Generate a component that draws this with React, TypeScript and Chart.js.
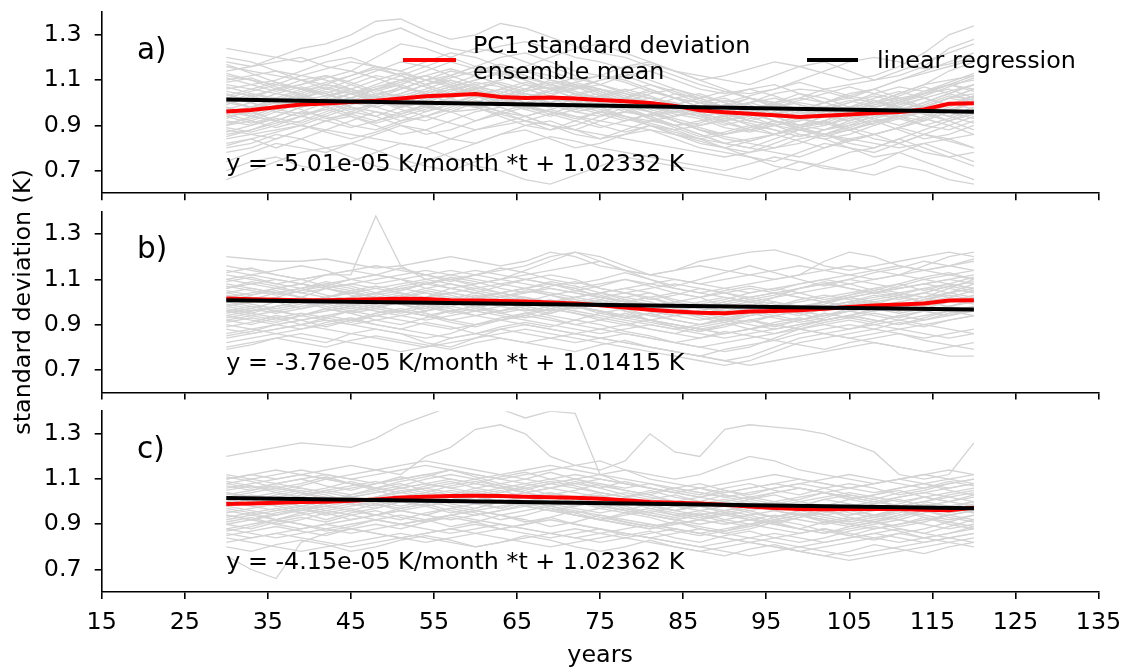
import { useEffect, useRef } from 'react';
import { Chart, registerables } from 'chart.js';

Chart.register(...registerables);

const FONT = "'DejaVu Sans', 'Liberation Sans', sans-serif";
const FS = 23.8;

const YEARS = [30, 33, 36, 39, 42, 45, 48, 51, 54, 57, 60, 63, 66, 69, 72, 75, 78, 81, 84, 87, 90, 93, 96, 99, 102, 105, 108, 111, 114, 117, 120];
const X_TICKS = [15, 25, 35, 45, 55, 65, 75, 85, 95, 105, 115, 125, 135];
const Y_TICKS = [0.7, 0.9, 1.1, 1.3];
const REG_YEARS = [30, 120];

const REG_A = [1.014, 0.960];
const REG_B = [1.007, 0.967];
const REG_C = [1.016, 0.971];

const RED_A = [0.961, 0.968, 0.980, 0.992, 0.996, 1.003, 1.009, 1.019, 1.028, 1.033, 1.038, 1.025, 1.021, 1.023, 1.019, 1.012, 1.006, 0.999, 0.986, 0.967, 0.958, 0.951, 0.944, 0.937, 0.942, 0.948, 0.954, 0.959, 0.970, 0.995, 0.998];
const RED_B = [1.015, 1.012, 1.010, 1.008, 1.008, 1.010, 1.012, 1.014, 1.013, 1.008, 1.006, 1.004, 1.002, 0.998, 0.993, 0.985, 0.975, 0.966, 0.958, 0.952, 0.950, 0.958, 0.960, 0.963, 0.970, 0.978, 0.984, 0.989, 0.993, 1.006, 1.008];
const RED_C = [0.990, 0.992, 0.995, 0.998, 1.000, 1.004, 1.010, 1.018, 1.022, 1.025, 1.026, 1.025, 1.022, 1.020, 1.017, 1.013, 1.006, 0.999, 0.995, 0.992, 0.986, 0.979, 0.972, 0.967, 0.966, 0.967, 0.968, 0.968, 0.964, 0.962, 0.973];

const GRAY_A = [
  [1.24, 1.22, 1.20, 1.18, 1.21, 1.25, 1.30, 1.33, 1.28, 1.24, 1.22, 1.25, 1.27, 1.24, 1.20, 1.18, 1.15, 1.17, 1.14, 1.10, 1.12, 1.15, 1.18, 1.16, 1.13, 1.10, 1.12, 1.16, 1.22, 1.30, 1.34],
  [1.18, 1.16, 1.20, 1.24, 1.26, 1.30, 1.36, 1.37, 1.32, 1.28, 1.30, 1.35, 1.33, 1.29, 1.25, 1.22, 1.20, 1.16, 1.12, 1.08, 1.05, 1.04, 1.06, 1.10, 1.14, 1.18, 1.20, 1.18, 1.15, 1.17, 1.20],
  [0.66, 0.70, 0.74, 0.78, 0.80, 0.82, 0.79, 0.75, 0.72, 0.70, 0.74, 0.78, 0.82, 0.85, 0.83, 0.80, 0.78, 0.76, 0.74, 0.72, 0.70, 0.73, 0.76, 0.74, 0.71, 0.70, 0.73, 0.78, 0.74, 0.70, 0.66],
  [1.12, 1.10, 1.08, 1.12, 1.15, 1.18, 1.16, 1.14, 1.10, 1.12, 1.16, 1.20, 1.22, 1.18, 1.14, 1.12, 1.10, 1.06, 1.02, 1.00, 0.98, 1.00, 1.04, 1.06, 1.05, 1.02, 1.00, 1.04, 1.08, 1.10, 1.12],
  [0.84, 0.86, 0.88, 0.90, 0.88, 0.86, 0.84, 0.82, 0.80, 0.84, 0.88, 0.90, 0.92, 0.90, 0.88, 0.86, 0.84, 0.82, 0.80, 0.78, 0.76, 0.78, 0.80, 0.84, 0.86, 0.84, 0.82, 0.80, 0.82, 0.84, 0.86],
  [1.02, 1.05, 1.08, 1.06, 1.04, 1.08, 1.12, 1.10, 1.14, 1.18, 1.15, 1.12, 1.08, 1.04, 1.06, 1.10, 1.12, 1.08, 1.04, 1.00, 0.96, 0.92, 0.90, 0.92, 0.95, 0.98, 1.00, 1.02, 1.04, 1.08, 1.10],
  [0.92, 0.90, 0.94, 0.98, 1.00, 0.96, 0.94, 0.98, 1.02, 1.06, 1.08, 1.04, 1.00, 0.98, 1.02, 1.04, 1.00, 0.96, 0.92, 0.88, 0.86, 0.88, 0.90, 0.88, 0.86, 0.88, 0.92, 0.94, 0.90, 0.88, 0.92],
  [0.78, 0.80, 0.84, 0.88, 0.92, 0.94, 0.90, 0.86, 0.88, 0.92, 0.96, 0.98, 0.94, 0.90, 0.88, 0.92, 0.96, 0.94, 0.90, 0.86, 0.82, 0.80, 0.78, 0.76, 0.80, 0.84, 0.86, 0.82, 0.78, 0.76, 0.78],
  [1.08, 1.06, 1.04, 1.02, 1.06, 1.10, 1.14, 1.18, 1.16, 1.12, 1.08, 1.10, 1.14, 1.16, 1.12, 1.08, 1.04, 1.00, 0.98, 0.96, 0.98, 1.02, 1.00, 0.96, 0.94, 0.96, 1.00, 1.04, 1.08, 1.14, 1.18],
  [0.96, 0.98, 1.00, 1.04, 1.08, 1.06, 1.02, 0.98, 1.00, 1.04, 1.06, 1.02, 0.98, 1.00, 1.04, 1.02, 0.98, 0.94, 0.96, 1.00, 1.02, 0.98, 0.94, 0.90, 0.88, 0.90, 0.94, 0.96, 0.98, 1.02, 1.04],
  [0.88, 0.86, 0.84, 0.88, 0.92, 0.96, 1.00, 1.04, 1.08, 1.10, 1.06, 1.02, 0.98, 0.96, 0.94, 0.92, 0.90, 0.88, 0.86, 0.84, 0.82, 0.84, 0.86, 0.90, 0.92, 0.88, 0.84, 0.82, 0.86, 0.90, 0.94],
  [1.04, 1.00, 0.96, 0.94, 0.98, 1.02, 1.06, 1.08, 1.04, 1.00, 0.98, 1.02, 1.06, 1.10, 1.08, 1.04, 1.00, 0.98, 1.02, 1.04, 1.00, 0.96, 0.92, 0.90, 0.92, 0.96, 0.98, 0.94, 0.92, 0.96, 1.00],
  [0.74, 0.78, 0.82, 0.80, 0.78, 0.82, 0.86, 0.90, 0.88, 0.84, 0.82, 0.86, 0.90, 0.92, 0.88, 0.84, 0.86, 0.90, 0.88, 0.84, 0.80, 0.76, 0.74, 0.78, 0.82, 0.80, 0.78, 0.82, 0.86, 0.84, 0.80],
  [1.16, 1.14, 1.12, 1.10, 1.08, 1.12, 1.16, 1.14, 1.18, 1.22, 1.20, 1.16, 1.12, 1.08, 1.06, 1.08, 1.12, 1.14, 1.10, 1.06, 1.04, 1.06, 1.08, 1.04, 1.00, 1.02, 1.06, 1.10, 1.14, 1.18, 1.22],
  [0.94, 0.96, 0.92, 0.90, 0.94, 0.98, 0.96, 0.92, 0.94, 0.98, 1.02, 1.06, 1.04, 1.00, 0.96, 0.94, 0.96, 1.00, 1.04, 1.02, 0.98, 0.94, 0.90, 0.86, 0.84, 0.86, 0.90, 0.94, 0.96, 0.92, 0.88],
  [1.00, 1.02, 1.06, 1.10, 1.12, 1.08, 1.04, 1.06, 1.10, 1.14, 1.12, 1.08, 1.04, 1.02, 1.00, 0.98, 1.00, 1.04, 1.06, 1.02, 0.98, 0.96, 0.94, 0.96, 1.00, 1.04, 1.06, 1.02, 0.98, 1.02, 1.06],
  [0.86, 0.88, 0.92, 0.96, 0.94, 0.90, 0.88, 0.92, 0.96, 1.00, 0.98, 0.94, 0.90, 0.88, 0.90, 0.94, 0.98, 0.96, 0.92, 0.88, 0.84, 0.82, 0.80, 0.82, 0.86, 0.90, 0.92, 0.88, 0.84, 0.86, 0.90],
  [1.10, 1.12, 1.14, 1.12, 1.10, 1.06, 1.02, 1.04, 1.08, 1.12, 1.16, 1.14, 1.10, 1.06, 1.02, 1.00, 1.02, 1.06, 1.02, 0.98, 0.94, 0.96, 1.00, 1.04, 1.02, 0.98, 0.94, 0.96, 1.00, 1.04, 1.08],
  [0.80, 0.82, 0.86, 0.84, 0.80, 0.76, 0.72, 0.70, 0.74, 0.78, 0.82, 0.86, 0.88, 0.84, 0.80, 0.82, 0.86, 0.88, 0.84, 0.80, 0.78, 0.76, 0.72, 0.70, 0.74, 0.78, 0.80, 0.84, 0.80, 0.76, 0.72],
  [0.98, 0.94, 0.92, 0.96, 1.00, 1.04, 1.06, 1.02, 0.98, 0.96, 1.00, 1.04, 1.08, 1.06, 1.02, 0.98, 0.94, 0.92, 0.94, 0.98, 0.96, 0.92, 0.90, 0.92, 0.96, 0.98, 0.96, 0.94, 0.98, 1.02, 1.00],
  [1.20, 1.18, 1.14, 1.10, 1.06, 1.04, 1.08, 1.12, 1.16, 1.20, 1.24, 1.22, 1.18, 1.14, 1.10, 1.12, 1.16, 1.18, 1.14, 1.10, 1.06, 1.02, 1.00, 1.02, 1.06, 1.08, 1.10, 1.14, 1.18, 1.22, 1.26],
  [0.90, 0.92, 0.96, 1.00, 1.02, 0.98, 0.94, 0.90, 0.86, 0.88, 0.92, 0.96, 0.94, 0.90, 0.86, 0.84, 0.88, 0.92, 0.90, 0.86, 0.82, 0.80, 0.84, 0.88, 0.86, 0.82, 0.80, 0.84, 0.88, 0.92, 0.96],
  [1.06, 1.08, 1.10, 1.14, 1.18, 1.20, 1.16, 1.12, 1.08, 1.04, 1.06, 1.10, 1.14, 1.12, 1.08, 1.06, 1.04, 1.02, 1.00, 0.96, 0.92, 0.94, 0.98, 1.00, 0.98, 0.94, 0.96, 1.00, 1.04, 1.06, 1.02],
  [0.82, 0.84, 0.80, 0.84, 0.88, 0.92, 0.96, 0.94, 0.92, 0.96, 1.00, 0.96, 0.92, 0.88, 0.92, 0.96, 0.94, 0.90, 0.86, 0.82, 0.80, 0.78, 0.82, 0.86, 0.84, 0.80, 0.76, 0.78, 0.82, 0.78, 0.74],
  [1.14, 1.16, 1.18, 1.20, 1.16, 1.14, 1.20, 1.26, 1.24, 1.20, 1.16, 1.12, 1.16, 1.20, 1.24, 1.26, 1.22, 1.18, 1.14, 1.12, 1.10, 1.08, 1.12, 1.16, 1.18, 1.14, 1.10, 1.12, 1.16, 1.24, 1.28],
  [0.70, 0.74, 0.76, 0.72, 0.70, 0.74, 0.78, 0.82, 0.80, 0.76, 0.72, 0.70, 0.66, 0.64, 0.68, 0.72, 0.76, 0.74, 0.72, 0.70, 0.68, 0.66, 0.70, 0.74, 0.72, 0.70, 0.68, 0.72, 0.70, 0.66, 0.64],
  [0.96, 0.94, 0.98, 1.02, 1.00, 1.02, 1.06, 1.10, 1.12, 1.08, 1.04, 1.00, 1.02, 1.06, 1.04, 1.00, 0.96, 0.94, 0.90, 0.92, 0.94, 0.90, 0.86, 0.88, 0.90, 0.94, 0.98, 1.00, 1.04, 1.08, 1.06],
  [1.00, 0.98, 1.02, 1.06, 1.04, 1.00, 1.02, 1.06, 1.10, 1.08, 1.12, 1.16, 1.12, 1.08, 1.04, 1.06, 1.02, 0.98, 0.96, 0.94, 0.92, 0.88, 0.86, 0.90, 0.94, 0.92, 0.96, 1.00, 0.98, 1.02, 1.06],
  [1.02, 1.00, 0.97, 0.95, 0.97, 1.01, 1.04, 1.03, 0.99, 0.96, 0.97, 1.01, 1.05, 1.07, 1.04, 1.00, 0.97, 0.93, 0.90, 0.91, 0.95, 0.97, 0.94, 0.90, 0.92, 0.96, 0.99, 1.01, 0.97, 0.94, 0.98],
  [0.91, 0.93, 0.97, 1.01, 1.03, 1.05, 1.02, 0.99, 1.01, 1.05, 1.09, 1.07, 1.03, 0.99, 0.96, 0.98, 1.01, 0.98, 0.95, 0.93, 0.89, 0.87, 0.90, 0.93, 0.91, 0.88, 0.91, 0.95, 0.99, 1.03, 1.01],
  [1.09, 1.11, 1.07, 1.03, 1.00, 1.02, 1.06, 1.09, 1.12, 1.09, 1.05, 1.03, 1.06, 1.09, 1.07, 1.03, 1.00, 1.02, 0.99, 0.95, 0.93, 0.96, 0.99, 1.02, 1.00, 0.97, 0.99, 1.03, 1.07, 1.04, 1.01],
  [0.99, 1.03, 1.06, 1.04, 1.00, 0.97, 0.99, 1.03, 1.06, 1.10, 1.07, 1.03, 1.00, 1.03, 1.07, 1.05, 1.01, 0.97, 0.94, 0.96, 0.99, 0.96, 0.92, 0.89, 0.91, 0.95, 0.93, 0.90, 0.94, 0.98, 1.02],
  [0.87, 0.90, 0.93, 0.91, 0.95, 0.99, 1.02, 0.99, 0.96, 0.99, 1.03, 1.01, 0.97, 0.94, 0.97, 1.00, 0.97, 0.93, 0.89, 0.85, 0.87, 0.90, 0.88, 0.85, 0.88, 0.92, 0.95, 0.93, 0.90, 0.93, 0.97],
  [1.05, 1.03, 1.00, 1.03, 1.07, 1.04, 1.00, 1.02, 1.05, 1.08, 1.04, 1.00, 0.97, 1.00, 1.03, 1.06, 1.03, 0.99, 0.96, 0.98, 1.01, 0.99, 0.95, 0.97, 1.00, 1.03, 1.01, 0.97, 1.00, 1.04, 1.08],
  [0.95, 0.92, 0.89, 0.92, 0.96, 1.00, 0.98, 0.95, 0.98, 1.01, 0.99, 0.96, 0.99, 1.03, 1.01, 0.97, 0.94, 0.91, 0.88, 0.90, 0.93, 0.91, 0.88, 0.85, 0.88, 0.91, 0.94, 0.97, 0.95, 0.92, 0.95],
  [1.13, 1.10, 1.06, 1.08, 1.11, 1.14, 1.11, 1.07, 1.04, 1.07, 1.10, 1.13, 1.10, 1.06, 1.09, 1.12, 1.09, 1.05, 1.02, 1.00, 1.03, 1.06, 1.03, 0.99, 0.97, 1.00, 1.04, 1.07, 1.05, 1.09, 1.13],
  [0.93, 0.97, 1.00, 0.97, 0.93, 0.95, 0.99, 1.02, 1.05, 1.02, 0.98, 1.01, 1.04, 1.02, 0.98, 0.95, 0.92, 0.95, 0.98, 0.95, 0.91, 0.88, 0.91, 0.94, 0.97, 0.94, 0.90, 0.93, 0.96, 1.00, 0.97],
  [1.01, 0.98, 1.01, 1.05, 1.08, 1.05, 1.01, 0.98, 1.01, 1.04, 1.07, 1.05, 1.02, 1.05, 1.09, 1.06, 1.02, 1.00, 0.97, 0.94, 0.96, 1.00, 1.02, 0.99, 0.96, 0.98, 1.02, 1.05, 1.02, 0.99, 1.03],
  [0.85, 0.88, 0.91, 0.94, 0.92, 0.89, 0.92, 0.96, 0.99, 0.96, 0.92, 0.95, 0.98, 0.95, 0.92, 0.89, 0.92, 0.95, 0.92, 0.88, 0.85, 0.83, 0.86, 0.89, 0.92, 0.89, 0.86, 0.89, 0.93, 0.90, 0.86],
  [1.17, 1.13, 1.09, 1.06, 1.09, 1.12, 1.15, 1.12, 1.08, 1.11, 1.14, 1.17, 1.14, 1.10, 1.07, 1.10, 1.13, 1.10, 1.06, 1.03, 1.00, 1.03, 1.06, 1.09, 1.06, 1.03, 1.06, 1.10, 1.13, 1.16, 1.19],
  [0.97, 1.00, 1.04, 1.07, 1.04, 1.00, 1.03, 1.07, 1.04, 1.00, 1.03, 1.06, 1.09, 1.06, 1.02, 0.99, 1.02, 1.05, 1.02, 0.98, 0.95, 0.92, 0.95, 0.98, 0.95, 0.92, 0.95, 0.98, 1.02, 1.05, 1.08],
  [0.89, 0.87, 0.90, 0.94, 0.97, 0.94, 0.91, 0.94, 0.97, 1.01, 0.98, 0.95, 0.92, 0.95, 0.99, 0.96, 0.93, 0.90, 0.87, 0.84, 0.86, 0.89, 0.92, 0.89, 0.86, 0.83, 0.86, 0.89, 0.92, 0.96, 0.93],
  [1.03, 1.06, 1.09, 1.06, 1.03, 1.06, 1.10, 1.13, 1.10, 1.07, 1.10, 1.14, 1.11, 1.08, 1.05, 1.02, 1.05, 1.08, 1.05, 1.01, 0.98, 1.00, 0.97, 0.94, 0.97, 1.00, 1.03, 1.00, 1.03, 1.07, 1.11],
  [0.94, 0.91, 0.94, 0.98, 1.01, 1.04, 1.01, 0.97, 0.94, 0.97, 1.01, 0.98, 0.94, 0.97, 1.00, 1.03, 1.00, 0.96, 0.93, 0.90, 0.92, 0.95, 0.92, 0.88, 0.85, 0.88, 0.91, 0.94, 0.97, 0.94, 0.91],
  [1.07, 1.04, 1.01, 0.98, 1.01, 1.04, 1.07, 1.10, 1.07, 1.03, 1.06, 1.09, 1.06, 1.03, 1.00, 1.03, 1.06, 1.03, 0.99, 0.96, 0.99, 1.02, 0.99, 0.95, 0.98, 1.01, 0.98, 1.01, 1.05, 1.08, 1.05],
  [0.90, 0.94, 0.98, 1.01, 0.98, 0.95, 0.92, 0.95, 0.99, 1.02, 1.05, 1.02, 0.99, 0.96, 0.93, 0.96, 0.99, 0.96, 0.92, 0.89, 0.86, 0.89, 0.92, 0.89, 0.86, 0.89, 0.93, 0.96, 0.93, 0.97, 1.00],
  [1.00, 1.04, 1.02, 0.99, 1.02, 1.06, 1.03, 1.00, 1.03, 1.06, 1.03, 0.99, 1.02, 1.05, 1.08, 1.05, 1.01, 0.98, 1.00, 0.97, 0.94, 0.97, 1.00, 0.97, 0.94, 0.97, 1.01, 0.98, 0.95, 0.99, 1.03],
  [1.11, 1.08, 1.05, 1.08, 1.12, 1.09, 1.05, 1.08, 1.12, 1.15, 1.12, 1.08, 1.05, 1.08, 1.11, 1.08, 1.05, 1.02, 0.99, 1.02, 1.05, 1.02, 0.98, 1.01, 1.04, 1.07, 1.04, 1.01, 1.04, 1.08, 1.12],
  [0.81, 0.84, 0.87, 0.90, 0.87, 0.84, 0.87, 0.91, 0.94, 0.91, 0.88, 0.91, 0.94, 0.97, 0.94, 0.90, 0.87, 0.90, 0.86, 0.83, 0.80, 0.83, 0.86, 0.83, 0.80, 0.83, 0.86, 0.89, 0.86, 0.83, 0.80],
  [0.98, 0.95, 0.99, 1.02, 1.05, 1.02, 0.98, 1.01, 1.04, 1.07, 1.04, 1.00, 1.03, 1.00, 0.97, 1.00, 0.97, 0.94, 0.97, 0.94, 0.90, 0.93, 0.96, 0.93, 0.90, 0.93, 0.96, 0.99, 1.02, 0.99, 1.03],
];

const GRAY_B = [
  [1.20, 1.19, 1.18, 1.18, 1.19, 1.17, 1.15, 1.16, 1.18, 1.20, 1.18, 1.16, 1.18, 1.22, 1.20, 1.16, 1.14, 1.12, 1.14, 1.18, 1.20, 1.22, 1.23, 1.20, 1.16, 1.14, 1.16, 1.18, 1.20, 1.22, 1.20],
  [1.10, 1.12, 1.10, 1.08, 1.12, 1.12, 1.38, 1.16, 1.10, 1.08, 1.06, 1.08, 1.10, 1.12, 1.10, 1.06, 1.04, 1.06, 1.08, 1.06, 1.04, 1.02, 1.04, 1.06, 1.08, 1.10, 1.08, 1.06, 1.08, 1.10, 1.12],
  [0.82, 0.84, 0.86, 0.84, 0.82, 0.86, 0.88, 0.86, 0.82, 0.80, 0.84, 0.88, 0.90, 0.88, 0.86, 0.84, 0.82, 0.80, 0.78, 0.76, 0.74, 0.76, 0.80, 0.84, 0.86, 0.84, 0.82, 0.80, 0.78, 0.76, 0.76],
  [1.04, 1.02, 1.00, 1.02, 1.06, 1.08, 1.06, 1.04, 1.02, 1.04, 1.06, 1.04, 1.02, 1.00, 1.02, 1.04, 1.06, 1.04, 1.00, 0.98, 0.96, 0.98, 1.02, 1.06, 1.08, 1.06, 1.04, 1.06, 1.08, 1.10, 1.08],
  [0.92, 0.94, 0.96, 0.94, 0.92, 0.90, 0.92, 0.94, 0.96, 0.98, 0.96, 0.94, 0.92, 0.90, 0.88, 0.86, 0.88, 0.90, 0.88, 0.86, 0.84, 0.86, 0.88, 0.90, 0.92, 0.94, 0.92, 0.90, 0.92, 0.94, 0.96],
  [1.14, 1.12, 1.14, 1.16, 1.14, 1.10, 1.08, 1.10, 1.12, 1.14, 1.12, 1.10, 1.12, 1.14, 1.16, 1.18, 1.14, 1.10, 1.06, 1.04, 1.06, 1.08, 1.10, 1.12, 1.18, 1.22, 1.20, 1.16, 1.14, 1.16, 1.18],
  [0.98, 1.00, 1.02, 1.00, 0.98, 0.96, 0.98, 1.00, 1.02, 1.04, 1.02, 1.00, 0.98, 0.96, 0.98, 1.00, 0.98, 0.96, 0.94, 0.92, 0.94, 0.96, 0.94, 0.92, 0.94, 0.96, 0.98, 1.00, 1.02, 1.04, 1.06],
  [0.88, 0.86, 0.88, 0.90, 0.92, 0.90, 0.88, 0.86, 0.84, 0.86, 0.90, 0.92, 0.94, 0.92, 0.90, 0.88, 0.86, 0.84, 0.82, 0.80, 0.82, 0.84, 0.86, 0.88, 0.86, 0.84, 0.86, 0.88, 0.90, 0.88, 0.86],
  [1.08, 1.06, 1.04, 1.06, 1.08, 1.10, 1.12, 1.10, 1.06, 1.04, 1.02, 1.04, 1.06, 1.08, 1.06, 1.02, 1.00, 1.02, 1.04, 1.02, 0.98, 0.96, 0.98, 1.00, 1.02, 1.04, 1.06, 1.04, 1.02, 1.06, 1.10],
  [0.96, 0.94, 0.92, 0.94, 0.96, 0.98, 0.96, 0.94, 0.92, 0.94, 0.96, 0.98, 1.00, 0.98, 0.96, 0.94, 0.92, 0.90, 0.88, 0.90, 0.92, 0.90, 0.88, 0.90, 0.92, 0.94, 0.96, 0.98, 0.96, 0.98, 1.00],
  [1.02, 1.04, 1.06, 1.08, 1.06, 1.04, 1.02, 1.00, 1.02, 1.06, 1.08, 1.10, 1.08, 1.06, 1.04, 1.02, 1.00, 0.98, 0.96, 0.98, 1.00, 1.02, 1.04, 1.02, 1.00, 1.02, 1.04, 1.06, 1.08, 1.06, 1.04],
  [0.84, 0.86, 0.88, 0.90, 0.88, 0.86, 0.84, 0.82, 0.80, 0.82, 0.84, 0.86, 0.88, 0.86, 0.84, 0.82, 0.80, 0.78, 0.76, 0.74, 0.72, 0.74, 0.78, 0.82, 0.84, 0.86, 0.88, 0.86, 0.84, 0.86, 0.88],
  [1.12, 1.10, 1.08, 1.10, 1.12, 1.14, 1.16, 1.14, 1.12, 1.10, 1.08, 1.10, 1.14, 1.18, 1.22, 1.20, 1.16, 1.12, 1.10, 1.08, 1.10, 1.12, 1.14, 1.16, 1.14, 1.12, 1.10, 1.12, 1.14, 1.16, 1.14],
  [0.94, 0.96, 0.98, 1.00, 1.02, 1.00, 0.98, 0.96, 0.94, 0.92, 0.94, 0.96, 0.98, 1.00, 1.02, 1.00, 0.96, 0.92, 0.90, 0.88, 0.90, 0.92, 0.94, 0.96, 0.98, 1.00, 0.98, 0.96, 0.98, 1.00, 1.02],
  [1.00, 0.98, 0.96, 0.98, 1.00, 1.02, 1.04, 1.06, 1.04, 1.02, 1.00, 0.98, 0.96, 0.98, 1.00, 1.02, 1.04, 1.02, 0.98, 0.94, 0.92, 0.94, 0.96, 0.98, 1.00, 1.02, 1.04, 1.02, 1.00, 1.04, 1.08],
  [0.90, 0.88, 0.86, 0.88, 0.90, 0.92, 0.94, 0.92, 0.90, 0.88, 0.90, 0.92, 0.90, 0.88, 0.86, 0.88, 0.90, 0.88, 0.86, 0.84, 0.86, 0.88, 0.90, 0.88, 0.86, 0.88, 0.90, 0.92, 0.90, 0.92, 0.94],
  [1.06, 1.08, 1.10, 1.08, 1.06, 1.04, 1.06, 1.08, 1.10, 1.12, 1.14, 1.12, 1.10, 1.08, 1.06, 1.08, 1.10, 1.08, 1.06, 1.04, 1.02, 1.00, 1.02, 1.04, 1.06, 1.08, 1.10, 1.12, 1.10, 1.12, 1.14],
  [0.80, 0.82, 0.84, 0.86, 0.84, 0.82, 0.80, 0.78, 0.80, 0.84, 0.86, 0.84, 0.82, 0.84, 0.86, 0.84, 0.82, 0.80, 0.78, 0.76, 0.74, 0.72, 0.74, 0.76, 0.78, 0.80, 0.82, 0.80, 0.78, 0.80, 0.82],
  [1.16, 1.14, 1.12, 1.10, 1.12, 1.14, 1.12, 1.10, 1.08, 1.10, 1.12, 1.14, 1.16, 1.20, 1.22, 1.18, 1.14, 1.12, 1.14, 1.16, 1.14, 1.12, 1.10, 1.12, 1.14, 1.16, 1.14, 1.12, 1.16, 1.20, 1.22],
  [0.98, 0.96, 0.98, 1.00, 1.02, 1.04, 1.02, 1.00, 0.98, 0.96, 0.94, 0.96, 0.98, 1.00, 0.98, 0.96, 0.94, 0.92, 0.94, 0.96, 0.98, 1.00, 0.98, 0.96, 0.98, 1.00, 1.02, 1.04, 1.06, 1.04, 1.02],
  [1.04, 1.06, 1.04, 1.02, 1.00, 1.02, 1.04, 1.06, 1.08, 1.06, 1.04, 1.02, 1.04, 1.06, 1.04, 1.02, 1.00, 0.98, 1.00, 1.02, 1.04, 1.06, 1.04, 1.02, 1.00, 0.98, 1.00, 1.02, 1.04, 1.02, 1.00],
  [0.86, 0.88, 0.90, 0.92, 0.94, 0.92, 0.90, 0.88, 0.86, 0.84, 0.86, 0.88, 0.86, 0.84, 0.82, 0.84, 0.86, 0.84, 0.82, 0.80, 0.78, 0.80, 0.84, 0.88, 0.90, 0.92, 0.90, 0.88, 0.86, 0.84, 0.86],
  [1.10, 1.08, 1.06, 1.04, 1.06, 1.08, 1.10, 1.12, 1.14, 1.12, 1.10, 1.08, 1.06, 1.04, 1.02, 1.04, 1.06, 1.08, 1.10, 1.08, 1.06, 1.04, 1.06, 1.08, 1.10, 1.12, 1.14, 1.16, 1.14, 1.12, 1.10],
  [0.94, 0.92, 0.90, 0.92, 0.94, 0.96, 0.98, 0.96, 0.94, 0.96, 0.98, 1.00, 1.02, 1.00, 0.98, 0.96, 0.94, 0.92, 0.90, 0.88, 0.86, 0.88, 0.90, 0.92, 0.94, 0.96, 0.94, 0.92, 0.94, 0.96, 0.98],
  [1.01, 0.99, 0.97, 0.99, 1.02, 1.04, 1.02, 0.99, 0.97, 1.00, 1.03, 1.01, 0.98, 0.96, 0.98, 1.01, 0.99, 0.96, 0.94, 0.96, 0.99, 0.97, 0.95, 0.97, 1.00, 1.02, 1.00, 0.98, 1.01, 1.04, 1.06],
  [0.95, 0.97, 1.00, 1.02, 0.99, 0.97, 0.99, 1.02, 1.04, 1.01, 0.98, 0.96, 0.99, 1.01, 0.98, 0.95, 0.93, 0.95, 0.92, 0.90, 0.92, 0.95, 0.93, 0.91, 0.93, 0.96, 0.98, 0.96, 0.99, 1.01, 0.99],
  [1.07, 1.05, 1.03, 1.05, 1.08, 1.06, 1.03, 1.05, 1.08, 1.10, 1.07, 1.04, 1.06, 1.09, 1.07, 1.04, 1.02, 1.04, 1.01, 0.99, 1.01, 1.04, 1.06, 1.04, 1.01, 1.03, 1.06, 1.08, 1.05, 1.08, 1.11],
  [0.91, 0.93, 0.91, 0.94, 0.97, 0.95, 0.92, 0.90, 0.93, 0.96, 0.98, 0.95, 0.93, 0.95, 0.98, 0.96, 0.93, 0.91, 0.89, 0.87, 0.89, 0.92, 0.90, 0.88, 0.91, 0.93, 0.95, 0.93, 0.96, 0.98, 0.96],
  [1.03, 1.01, 1.04, 1.06, 1.03, 1.01, 0.99, 1.02, 1.05, 1.03, 1.00, 1.02, 1.05, 1.03, 1.00, 0.98, 1.01, 0.99, 0.96, 0.94, 0.97, 0.99, 0.97, 0.95, 0.98, 1.00, 1.03, 1.01, 1.04, 1.07, 1.05],
  [0.97, 0.95, 0.98, 1.00, 0.97, 0.95, 0.97, 1.00, 0.98, 0.95, 0.97, 1.00, 1.02, 0.99, 0.97, 0.99, 0.96, 0.94, 0.96, 0.93, 0.91, 0.94, 0.96, 0.94, 0.97, 0.99, 0.97, 0.95, 0.97, 1.00, 1.03],
  [1.09, 1.11, 1.08, 1.06, 1.09, 1.07, 1.04, 1.07, 1.09, 1.06, 1.04, 1.07, 1.10, 1.08, 1.05, 1.07, 1.10, 1.07, 1.04, 1.02, 1.05, 1.07, 1.05, 1.08, 1.10, 1.08, 1.05, 1.08, 1.11, 1.13, 1.10],
  [0.89, 0.91, 0.94, 0.92, 0.89, 0.92, 0.95, 0.97, 0.95, 0.92, 0.90, 0.93, 0.95, 0.93, 0.90, 0.92, 0.95, 0.92, 0.90, 0.88, 0.86, 0.88, 0.91, 0.93, 0.90, 0.88, 0.91, 0.94, 0.92, 0.95, 0.97],
  [1.00, 1.03, 1.05, 1.02, 1.00, 0.98, 1.01, 1.03, 1.00, 0.98, 1.01, 1.04, 1.01, 0.99, 1.02, 1.04, 1.01, 0.98, 0.96, 0.98, 0.95, 0.97, 1.00, 0.98, 0.96, 0.99, 1.01, 1.03, 1.00, 1.02, 1.05],
  [0.93, 0.95, 0.93, 0.90, 0.93, 0.96, 0.94, 0.96, 0.99, 0.97, 0.94, 0.92, 0.95, 0.97, 0.95, 0.92, 0.90, 0.92, 0.89, 0.87, 0.90, 0.92, 0.89, 0.92, 0.95, 0.93, 0.91, 0.94, 0.96, 0.94, 0.97],
  [1.05, 1.03, 1.06, 1.08, 1.06, 1.03, 1.01, 1.03, 1.06, 1.08, 1.05, 1.03, 1.00, 1.03, 1.05, 1.03, 1.00, 1.02, 0.99, 0.97, 1.00, 1.02, 1.00, 0.97, 1.00, 1.03, 1.05, 1.03, 1.06, 1.08, 1.06],
  [0.99, 0.97, 0.95, 0.97, 1.00, 0.98, 1.01, 0.99, 0.96, 0.99, 1.02, 1.00, 0.97, 0.95, 0.98, 0.96, 0.93, 0.95, 0.98, 0.95, 0.93, 0.91, 0.94, 0.96, 0.94, 0.97, 0.99, 0.97, 1.00, 0.98, 1.01],
  [1.13, 1.15, 1.12, 1.10, 1.07, 1.10, 1.12, 1.15, 1.12, 1.09, 1.12, 1.15, 1.13, 1.10, 1.08, 1.10, 1.13, 1.10, 1.07, 1.10, 1.13, 1.16, 1.13, 1.10, 1.07, 1.10, 1.13, 1.15, 1.18, 1.16, 1.19],
  [0.85, 0.87, 0.90, 0.88, 0.91, 0.93, 0.90, 0.88, 0.91, 0.89, 0.86, 0.89, 0.91, 0.89, 0.92, 0.90, 0.87, 0.85, 0.82, 0.84, 0.87, 0.85, 0.83, 0.86, 0.88, 0.90, 0.88, 0.91, 0.89, 0.92, 0.94],
  [1.02, 1.00, 1.02, 1.05, 1.07, 1.05, 1.02, 1.04, 1.01, 0.99, 1.02, 1.04, 1.06, 1.03, 1.01, 0.99, 1.02, 1.00, 0.97, 1.00, 1.02, 1.00, 0.98, 1.01, 1.03, 1.01, 0.99, 1.02, 1.04, 1.07, 1.09],
  [0.96, 0.98, 0.96, 0.94, 0.97, 0.99, 0.97, 0.95, 0.98, 1.00, 0.97, 0.95, 0.97, 0.94, 0.92, 0.95, 0.97, 0.94, 0.92, 0.90, 0.93, 0.95, 0.97, 0.95, 0.92, 0.94, 0.97, 0.99, 0.96, 0.94, 0.97],
  [1.06, 1.09, 1.07, 1.04, 1.02, 1.05, 1.07, 1.05, 1.08, 1.11, 1.09, 1.06, 1.04, 1.07, 1.09, 1.06, 1.04, 1.01, 1.03, 1.06, 1.04, 1.01, 1.03, 1.06, 1.09, 1.06, 1.04, 1.07, 1.10, 1.08, 1.06],
  [0.92, 0.90, 0.93, 0.95, 0.93, 0.91, 0.94, 0.96, 0.94, 0.91, 0.89, 0.92, 0.94, 0.97, 0.95, 0.93, 0.91, 0.88, 0.86, 0.89, 0.91, 0.88, 0.86, 0.89, 0.92, 0.94, 0.92, 0.90, 0.93, 0.96, 0.94],
  [1.00, 1.02, 1.00, 0.97, 0.99, 1.02, 1.04, 1.01, 0.99, 1.01, 1.04, 1.02, 1.00, 0.97, 0.99, 1.01, 0.98, 0.96, 0.94, 0.96, 0.99, 1.01, 0.99, 0.97, 0.99, 1.02, 1.00, 0.98, 1.01, 1.03, 1.01],
  [0.79, 0.81, 0.84, 0.82, 0.80, 0.83, 0.85, 0.83, 0.81, 0.79, 0.82, 0.84, 0.82, 0.80, 0.78, 0.81, 0.83, 0.80, 0.78, 0.76, 0.79, 0.81, 0.83, 0.81, 0.79, 0.82, 0.84, 0.86, 0.83, 0.81, 0.79],
];

const GRAY_C = [
  [1.20, 1.22, 1.24, 1.26, 1.25, 1.24, 1.28, 1.34, 1.38, 1.42, 1.44, 1.41, 1.37, 1.40, 1.39, 1.12, 1.08, 1.06, 1.04, 1.02, 1.00, 1.02, 1.04, 1.06, 1.04, 1.02, 1.00, 1.02, 1.04, 1.06, 1.08],
  [1.10, 1.12, 1.10, 1.12, 1.14, 1.16, 1.14, 1.12, 1.20, 1.24, 1.32, 1.34, 1.30, 1.20, 1.16, 1.14, 1.18, 1.30, 1.22, 1.20, 1.32, 1.34, 1.33, 1.32, 1.30, 1.26, 1.22, 1.12, 1.10, 1.12, 1.26],
  [0.76, 0.70, 0.66, 0.82, 0.86, 0.88, 0.86, 0.84, 0.86, 0.88, 0.86, 0.84, 0.82, 0.80, 0.82, 0.84, 0.86, 0.84, 0.82, 0.80, 0.82, 0.84, 0.86, 0.84, 0.82, 0.84, 0.86, 0.84, 0.82, 0.84, 0.86],
  [1.08, 1.06, 1.08, 1.10, 1.12, 1.10, 1.08, 1.10, 1.12, 1.14, 1.12, 1.10, 1.08, 1.06, 1.08, 1.10, 1.08, 1.06, 1.04, 1.06, 1.08, 1.10, 1.12, 1.10, 1.08, 1.06, 1.08, 1.10, 1.12, 1.10, 1.08],
  [0.88, 0.86, 0.84, 0.86, 0.88, 0.90, 0.92, 0.90, 0.88, 0.86, 0.88, 0.90, 0.88, 0.86, 0.84, 0.82, 0.84, 0.86, 0.88, 0.86, 0.84, 0.82, 0.80, 0.78, 0.80, 0.82, 0.84, 0.86, 0.84, 0.82, 0.84],
  [1.00, 1.02, 1.04, 1.06, 1.04, 1.02, 1.04, 1.06, 1.08, 1.06, 1.04, 1.02, 1.04, 1.06, 1.04, 1.02, 1.00, 0.98, 0.96, 0.98, 1.00, 0.98, 0.96, 0.94, 0.96, 0.98, 1.00, 0.98, 0.96, 0.98, 1.00],
  [0.94, 0.92, 0.94, 0.96, 0.98, 0.96, 0.94, 0.96, 0.98, 1.00, 1.02, 1.00, 0.98, 0.96, 0.94, 0.92, 0.94, 0.96, 0.94, 0.92, 0.90, 0.92, 0.94, 0.92, 0.90, 0.92, 0.94, 0.96, 0.94, 0.92, 0.94],
  [1.12, 1.10, 1.12, 1.14, 1.12, 1.10, 1.12, 1.14, 1.16, 1.14, 1.12, 1.10, 1.12, 1.14, 1.16, 1.18, 1.14, 1.10, 1.08, 1.06, 1.04, 1.06, 1.08, 1.06, 1.04, 1.06, 1.08, 1.10, 1.08, 1.06, 1.08],
  [0.82, 0.84, 0.86, 0.84, 0.82, 0.80, 0.82, 0.84, 0.86, 0.88, 0.90, 0.88, 0.86, 0.84, 0.86, 0.88, 0.86, 0.84, 0.82, 0.80, 0.78, 0.76, 0.78, 0.80, 0.78, 0.76, 0.78, 0.80, 0.82, 0.84, 0.86],
  [1.04, 1.02, 1.00, 0.98, 1.00, 1.02, 1.04, 1.06, 1.08, 1.10, 1.08, 1.06, 1.04, 1.02, 1.00, 1.02, 1.04, 1.02, 1.00, 0.98, 0.96, 0.98, 1.00, 1.02, 1.04, 1.02, 1.00, 0.98, 1.00, 1.02, 1.04],
  [0.90, 0.92, 0.90, 0.88, 0.90, 0.92, 0.94, 0.96, 0.94, 0.92, 0.94, 0.96, 0.98, 0.96, 0.94, 0.92, 0.90, 0.88, 0.90, 0.92, 0.94, 0.92, 0.90, 0.88, 0.86, 0.88, 0.90, 0.92, 0.90, 0.88, 0.90],
  [0.98, 1.00, 0.98, 0.96, 0.98, 1.00, 1.02, 1.04, 1.06, 1.04, 1.02, 1.00, 0.98, 1.00, 1.02, 1.04, 1.02, 1.00, 0.98, 0.96, 0.94, 0.96, 0.98, 0.96, 0.94, 0.92, 0.94, 0.96, 0.98, 1.00, 1.02],
  [1.06, 1.08, 1.10, 1.12, 1.10, 1.08, 1.06, 1.04, 1.06, 1.08, 1.10, 1.12, 1.14, 1.16, 1.14, 1.12, 1.10, 1.08, 1.06, 1.04, 1.02, 1.04, 1.06, 1.08, 1.10, 1.12, 1.10, 1.08, 1.06, 1.08, 1.10],
  [0.86, 0.84, 0.86, 0.88, 0.90, 0.88, 0.86, 0.84, 0.82, 0.84, 0.86, 0.88, 0.90, 0.92, 0.90, 0.88, 0.86, 0.84, 0.86, 0.88, 0.86, 0.84, 0.82, 0.80, 0.82, 0.84, 0.86, 0.88, 0.86, 0.84, 0.82],
  [1.00, 0.98, 0.96, 0.98, 1.00, 1.02, 1.00, 0.98, 1.00, 1.02, 1.04, 1.06, 1.04, 1.02, 1.00, 0.98, 0.96, 0.94, 0.92, 0.94, 0.96, 0.98, 1.00, 0.98, 0.96, 0.94, 0.96, 0.98, 1.00, 0.98, 0.96],
  [0.92, 0.94, 0.96, 0.98, 0.96, 0.94, 0.92, 0.90, 0.92, 0.94, 0.96, 0.98, 1.00, 0.98, 0.96, 0.94, 0.92, 0.90, 0.88, 0.86, 0.88, 0.90, 0.92, 0.94, 0.92, 0.90, 0.88, 0.90, 0.92, 0.94, 0.96],
  [1.10, 1.12, 1.14, 1.12, 1.10, 1.12, 1.14, 1.16, 1.18, 1.16, 1.14, 1.12, 1.10, 1.08, 1.10, 1.12, 1.14, 1.12, 1.10, 1.12, 1.16, 1.20, 1.18, 1.14, 1.12, 1.10, 1.08, 1.10, 1.12, 1.14, 1.12],
  [0.84, 0.82, 0.80, 0.78, 0.80, 0.82, 0.84, 0.86, 0.84, 0.82, 0.80, 0.82, 0.84, 0.86, 0.88, 0.86, 0.84, 0.82, 0.80, 0.78, 0.80, 0.82, 0.80, 0.78, 0.76, 0.74, 0.76, 0.78, 0.80, 0.82, 0.80],
  [1.02, 1.04, 1.06, 1.04, 1.02, 1.00, 1.02, 1.04, 1.02, 1.00, 1.02, 1.04, 1.06, 1.08, 1.06, 1.04, 1.02, 1.04, 1.06, 1.04, 1.02, 1.00, 0.98, 1.00, 1.02, 1.04, 1.02, 1.00, 1.02, 1.04, 1.06],
  [0.96, 0.94, 0.92, 0.94, 0.96, 0.98, 1.00, 1.02, 1.00, 0.98, 0.96, 0.94, 0.96, 0.98, 1.00, 0.98, 0.96, 0.94, 0.92, 0.90, 0.92, 0.94, 0.96, 0.94, 0.92, 0.90, 0.92, 0.94, 0.96, 0.94, 0.92],
  [1.08, 1.10, 1.08, 1.06, 1.04, 1.06, 1.08, 1.10, 1.12, 1.10, 1.08, 1.06, 1.08, 1.10, 1.12, 1.10, 1.08, 1.06, 1.04, 1.02, 1.04, 1.06, 1.08, 1.10, 1.08, 1.06, 1.04, 1.06, 1.08, 1.10, 1.12],
  [0.88, 0.90, 0.92, 0.90, 0.88, 0.86, 0.88, 0.90, 0.92, 0.94, 0.92, 0.90, 0.88, 0.86, 0.84, 0.86, 0.88, 0.90, 0.88, 0.86, 0.84, 0.82, 0.84, 0.86, 0.88, 0.86, 0.84, 0.82, 0.84, 0.86, 0.88],
  [1.01, 0.99, 1.02, 1.04, 1.01, 0.99, 1.02, 1.05, 1.03, 1.00, 1.03, 1.05, 1.02, 1.00, 0.98, 1.00, 0.97, 0.95, 0.98, 1.00, 0.98, 0.96, 0.93, 0.96, 0.98, 0.96, 0.94, 0.97, 0.99, 0.97, 0.95],
  [0.93, 0.95, 0.97, 0.95, 0.92, 0.95, 0.97, 1.00, 0.98, 0.95, 0.97, 1.00, 1.02, 0.99, 0.97, 0.95, 0.97, 0.94, 0.92, 0.94, 0.91, 0.89, 0.92, 0.94, 0.91, 0.89, 0.91, 0.94, 0.96, 0.93, 0.91],
  [1.05, 1.07, 1.04, 1.02, 1.05, 1.07, 1.09, 1.06, 1.04, 1.07, 1.09, 1.07, 1.04, 1.06, 1.09, 1.06, 1.03, 1.01, 1.03, 1.00, 0.98, 1.01, 1.03, 1.00, 0.98, 1.01, 1.03, 1.05, 1.02, 1.00, 1.03],
  [0.97, 0.95, 0.92, 0.95, 0.97, 0.99, 0.97, 1.00, 1.02, 0.99, 0.97, 1.00, 1.02, 1.04, 1.01, 0.99, 0.96, 0.99, 0.96, 0.94, 0.96, 0.94, 0.91, 0.93, 0.96, 0.93, 0.91, 0.93, 0.96, 0.98, 0.95],
  [0.90, 0.88, 0.91, 0.93, 0.91, 0.94, 0.96, 0.93, 0.91, 0.94, 0.96, 0.94, 0.91, 0.93, 0.96, 0.93, 0.91, 0.89, 0.91, 0.88, 0.86, 0.88, 0.91, 0.88, 0.86, 0.89, 0.91, 0.88, 0.86, 0.89, 0.92],
  [1.03, 1.05, 1.07, 1.04, 1.06, 1.09, 1.06, 1.04, 1.07, 1.09, 1.06, 1.04, 1.07, 1.09, 1.07, 1.04, 1.02, 1.05, 1.02, 1.00, 1.03, 1.01, 0.99, 1.01, 1.04, 1.01, 0.99, 1.02, 1.04, 1.02, 1.00],
  [0.99, 1.01, 0.98, 0.96, 0.99, 1.01, 0.99, 1.02, 1.04, 1.02, 0.99, 0.97, 1.00, 1.02, 1.00, 0.97, 0.95, 0.97, 0.94, 0.96, 0.98, 0.95, 0.93, 0.96, 0.98, 0.95, 0.93, 0.95, 0.98, 0.95, 0.97],
  [0.85, 0.87, 0.89, 0.87, 0.85, 0.88, 0.90, 0.88, 0.91, 0.93, 0.91, 0.88, 0.90, 0.93, 0.90, 0.88, 0.85, 0.87, 0.84, 0.82, 0.85, 0.87, 0.84, 0.82, 0.84, 0.87, 0.89, 0.87, 0.84, 0.86, 0.89],
  [1.11, 1.09, 1.06, 1.08, 1.11, 1.08, 1.06, 1.09, 1.11, 1.14, 1.11, 1.08, 1.10, 1.13, 1.10, 1.08, 1.06, 1.08, 1.05, 1.03, 1.06, 1.08, 1.05, 1.03, 1.06, 1.08, 1.06, 1.03, 1.05, 1.08, 1.10],
  [0.95, 0.97, 0.99, 0.97, 0.94, 0.96, 0.99, 0.96, 0.94, 0.97, 0.99, 1.01, 0.98, 0.96, 0.98, 1.00, 0.98, 0.95, 0.93, 0.95, 0.92, 0.90, 0.93, 0.95, 0.93, 0.91, 0.93, 0.96, 0.93, 0.91, 0.94],
  [1.02, 1.00, 1.03, 1.05, 1.03, 1.00, 0.98, 1.01, 1.03, 1.05, 1.03, 1.00, 1.02, 1.04, 1.02, 0.99, 1.01, 0.98, 0.96, 0.98, 0.95, 0.97, 0.99, 0.97, 0.94, 0.96, 0.99, 1.01, 0.98, 0.96, 0.99],
  [0.91, 0.93, 0.90, 0.92, 0.95, 0.97, 0.94, 0.92, 0.95, 0.97, 0.95, 0.92, 0.94, 0.97, 0.95, 0.92, 0.90, 0.88, 0.91, 0.89, 0.87, 0.89, 0.92, 0.90, 0.87, 0.85, 0.88, 0.90, 0.93, 0.90, 0.88],
  [1.07, 1.05, 1.08, 1.10, 1.07, 1.05, 1.08, 1.11, 1.08, 1.06, 1.08, 1.11, 1.13, 1.10, 1.08, 1.06, 1.09, 1.06, 1.04, 1.06, 1.03, 1.01, 1.04, 1.06, 1.04, 1.01, 1.03, 1.06, 1.08, 1.05, 1.03],
  [0.98, 0.96, 0.94, 0.97, 0.99, 1.02, 0.99, 0.97, 0.99, 1.02, 1.00, 0.97, 1.00, 0.98, 0.95, 0.97, 1.00, 0.97, 0.95, 0.93, 0.95, 0.93, 0.90, 0.93, 0.95, 0.97, 0.94, 0.92, 0.95, 0.97, 1.00],
  [0.87, 0.89, 0.92, 0.90, 0.87, 0.89, 0.92, 0.94, 0.92, 0.89, 0.91, 0.94, 0.92, 0.89, 0.91, 0.94, 0.91, 0.89, 0.87, 0.85, 0.87, 0.90, 0.88, 0.86, 0.88, 0.85, 0.83, 0.86, 0.88, 0.91, 0.89],
  [1.04, 1.02, 1.00, 1.03, 1.05, 1.03, 1.06, 1.08, 1.05, 1.03, 1.06, 1.08, 1.06, 1.03, 1.05, 1.08, 1.05, 1.03, 1.00, 1.02, 1.05, 1.02, 1.00, 0.98, 1.01, 1.03, 1.01, 0.98, 1.00, 1.03, 1.05],
  [0.94, 0.92, 0.95, 0.97, 0.95, 0.92, 0.94, 0.97, 0.99, 0.96, 0.94, 0.96, 0.99, 0.97, 0.94, 0.92, 0.95, 0.93, 0.90, 0.92, 0.95, 0.92, 0.90, 0.88, 0.91, 0.93, 0.91, 0.89, 0.91, 0.94, 0.96],
  [1.09, 1.07, 1.05, 1.07, 1.10, 1.08, 1.05, 1.07, 1.10, 1.12, 1.10, 1.07, 1.05, 1.08, 1.10, 1.07, 1.05, 1.03, 1.06, 1.08, 1.05, 1.03, 1.06, 1.08, 1.06, 1.03, 1.01, 1.04, 1.06, 1.09, 1.07],
  [0.80, 0.78, 0.81, 0.83, 0.81, 0.78, 0.80, 0.83, 0.85, 0.83, 0.80, 0.82, 0.85, 0.83, 0.80, 0.78, 0.80, 0.83, 0.80, 0.78, 0.76, 0.79, 0.81, 0.78, 0.76, 0.78, 0.81, 0.79, 0.77, 0.80, 0.82],
  [1.00, 1.03, 1.01, 0.98, 1.00, 1.03, 1.05, 1.02, 1.00, 1.02, 1.05, 1.03, 1.00, 0.98, 1.01, 1.03, 1.00, 0.98, 0.96, 0.99, 1.01, 0.99, 0.96, 0.98, 1.01, 0.99, 0.97, 0.99, 1.02, 1.00, 0.98],
];

const PANEL_LABELS = ['a)', 'b)', 'c)'];
const EQUATIONS = [
  'y = -5.01e-05 K/month *t + 1.02332 K',
  'y = -3.76e-05 K/month *t + 1.01415 K',
  'y = -4.15e-05 K/month *t + 1.02362 K',
];
const EQ_POS = [30, 0.7];
const LEGEND_MEAN = ['PC1 standard deviation', 'ensemble mean'];
const LEGEND_REG = 'linear regression';
const Y_TITLE = 'standard deviation (K)';
const X_TITLE = 'years';

type Panel = {
  idx: number;
  gray: number[][];
  red: number[];
  reg: number[];
  top: number;
  bottom: number;
  xH: number;
};

const PANELS: Panel[] = [
  { idx: 0, gray: GRAY_A, red: RED_A, reg: REG_A, top: 12.2, bottom: 193.2, xH: 10 },
  { idx: 1, gray: GRAY_B, red: RED_B, reg: REG_B, top: 211.5, bottom: 392.4, xH: 10 },
  { idx: 2, gray: GRAY_C, red: RED_C, reg: REG_C, top: 411.2, bottom: 592.1, xH: 75.9 },
];

const W = 1128;
const H = 668;
const PLOT_LEFT = 101.7;
const PLOT_RIGHT = 1098.5;

function makeTextPlugin(p: Panel) {
  return {
    id: 'panelText' + p.idx,
    afterDatasetsDraw(chart: any) {
      const { ctx, chartArea, scales } = chart;
      ctx.save();
      ctx.fillStyle = '#000';
      ctx.textAlign = 'left';
      ctx.textBaseline = 'alphabetic';
      ctx.font = `29.5px ${FONT}`;
      ctx.fillText(PANEL_LABELS[p.idx], chartArea.left + 35.3, chartArea.top + 46.8);
      ctx.font = `${FS}px ${FONT}`;
      ctx.fillText(EQUATIONS[p.idx], scales.x.getPixelForValue(EQ_POS[0]), scales.y.getPixelForValue(EQ_POS[1]));
      if (p.idx === 0) {
        ctx.lineWidth = 4;
        ctx.lineCap = 'butt';
        ctx.strokeStyle = '#ff0000';
        ctx.beginPath();
        ctx.moveTo(403, 60);
        ctx.lineTo(456, 60);
        ctx.stroke();
        ctx.fillText(LEGEND_MEAN[0], 473, 53);
        ctx.fillText(LEGEND_MEAN[1], 473, 79);
        ctx.strokeStyle = '#000';
        ctx.beginPath();
        ctx.moveTo(807, 60);
        ctx.lineTo(858, 60);
        ctx.stroke();
        ctx.fillText(LEGEND_REG, 877, 68.3);
      }
      ctx.restore();
    },
  };
}

function makeConfig(p: Panel): any {
  const font = { family: FONT, size: FS };
  const isBottom = p.idx === 2;
  const isMiddle = p.idx === 1;
  const lineBase = { pointRadius: 0, pointHoverRadius: 0, tension: 0, fill: false };
  const datasets: any[] = [
    { ...lineBase, data: REG_YEARS.map((x, i) => ({ x, y: p.reg[i] })), borderColor: '#000000', borderWidth: 4, order: 0 },
    { ...lineBase, data: YEARS.map((x, i) => ({ x, y: p.red[i] })), borderColor: '#ff0000', borderWidth: 4, order: 1 },
    ...p.gray.map((g) => ({ ...lineBase, data: YEARS.map((x, i) => ({ x, y: g[i] })), borderColor: '#d3d3d3', borderWidth: 1.3, order: 2 })),
  ];
  const gridCfg = { display: true, drawOnChartArea: false, drawTicks: true, tickLength: 7, color: '#000', lineWidth: 1.6, tickColor: '#000', tickWidth: 1.6 };
  return {
    type: 'line',
    data: { datasets },
    options: {
      animation: false,
      responsive: false,
      maintainAspectRatio: false,
      events: [],
      layout: { padding: { top: p.top, left: 0, right: W - PLOT_RIGHT, bottom: H - p.bottom - p.xH } },
      plugins: { legend: { display: false }, tooltip: { enabled: false }, title: { display: false } },
      scales: {
        x: {
          type: 'linear',
          min: 15,
          max: 135,
          afterBuildTicks: (s: any) => { s.ticks = X_TICKS.map((v) => ({ value: v })); },
          ticks: { display: isBottom, padding: 9, font, color: '#000', maxRotation: 0, autoSkip: false, callback: (v: any) => String(v) },
          grid: gridCfg,
          border: { display: true, color: '#000', width: 1.6 },
          title: { display: isBottom, text: X_TITLE, font, color: '#000', padding: { top: 0, bottom: -2 } },
          afterFit: (s: any) => { s.height = p.xH; s.paddingLeft = 0; s.paddingRight = 0; },
        },
        y: {
          type: 'linear',
          min: 0.6,
          max: 1.4,
          afterBuildTicks: (s: any) => { s.ticks = Y_TICKS.map((v) => ({ value: v })); },
          ticks: { padding: 13, font, color: '#000', callback: (v: any) => Number(v).toFixed(1) },
          grid: gridCfg,
          border: { display: true, color: '#000', width: 1.6 },
          title: { display: isMiddle, text: Y_TITLE, font, color: '#000', padding: { top: 10, bottom: 0 } },
          afterFit: (s: any) => { s.width = PLOT_LEFT; s.paddingTop = 0; s.paddingBottom = 0; },
        },
      },
    },
    plugins: [makeTextPlugin(p)],
  };
}

function PanelChart({ panel }: { panel: Panel }) {
  const ref = useRef<HTMLCanvasElement | null>(null);
  useEffect(() => {
    if (!ref.current) return;
    const chart = new Chart(ref.current, makeConfig(panel));
    return () => chart.destroy();
  }, [panel]);
  return (
    <canvas
      ref={ref}
      width={W}
      height={H}
      style={{ position: 'absolute', left: 0, top: 0, width: W, height: H }}
    />
  );
}

export default function App() {
  return (
    <div style={{ position: 'absolute', left: 0, top: 0, width: W, height: H, background: '#fff', overflow: 'hidden' }}>
      {PANELS.map((p) => (
        <PanelChart key={p.idx} panel={p} />
      ))}
    </div>
  );
}
